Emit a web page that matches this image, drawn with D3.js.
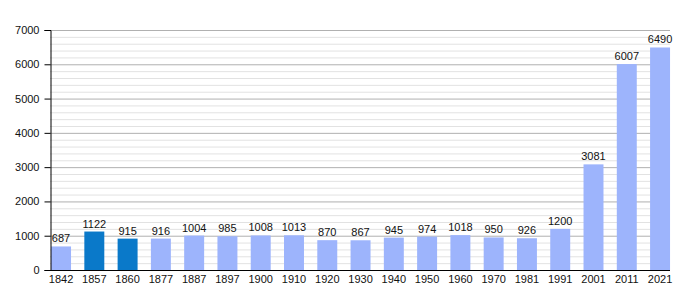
<!DOCTYPE html>
<html>
<head>
<meta charset="utf-8">
<script src="https://cdn.jsdelivr.net/npm/d3@7"></script>
<style>
  body { margin: 0; background: #fff; }
  svg { font-family: "Liberation Sans", Arial, sans-serif; }
</style>
</head>
<body>
<svg id="chart" width="700" height="300"></svg>
<script>
const years = ["1842", "1857", "1860", "1877", "1887", "1897", "1900", "1910", "1920", "1930",
               "1940", "1950", "1960", "1970", "1981", "1991", "2001", "2011", "2021"];
const population = [687, 1122, 915, 916, 1004, 985, 1008, 1013, 870, 867,
                    945, 974, 1018, 950, 926, 1200, 3081, 6007, 6490];
const highlighted = ["1857", "1860"];
const yTicks = [0, 1000, 2000, 3000, 4000, 5000, 6000, 7000];

const margin = {top: 30, left: 50, right: 30, bottom: 30};
const width = 700, height = 300;
const plotRight = width - margin.right;
const plotBottom = height - margin.bottom;

const svg = d3.select("#chart");

const x = d3.scaleBand()
    .domain(years)
    .range([44.4, 676.7])
    .paddingInner(0.4)
    .paddingOuter(0.2);

const y = d3.scaleLinear()
    .domain([0, 7000])
    .range([plotBottom, margin.top]);

// grid lines
const minor = d3.range(200, 7000, 200).filter(v => v % 1000 !== 0);
svg.append("g").selectAll("line")
    .data(minor)
    .join("line")
    .attr("x1", margin.left).attr("x2", plotRight)
    .attr("y1", d => y(d) + 0.5).attr("y2", d => y(d) + 0.5)
    .attr("stroke", "#e2e2e2");
svg.append("g").selectAll("line")
    .data(yTicks.filter(v => v > 0))
    .join("line")
    .attr("x1", margin.left).attr("x2", plotRight)
    .attr("y1", d => y(d) + 0.5).attr("y2", d => y(d) + 0.5)
    .attr("stroke", "#b0b0b0");

// bars
const data = years.map((yr, i) => ({year: yr, value: population[i]}));
svg.append("g").selectAll("rect")
    .data(data)
    .join("rect")
    .attr("x", d => x(d.year))
    .attr("width", x.bandwidth())
    .attr("y", d => y(d.value))
    .attr("height", d => y(0) - y(d.value))
    .attr("fill", d => highlighted.includes(d.year) ? "#0a79c9" : "#9db4fc");

svg.append("g").selectAll("text")
    .data(data)
    .join("text")
    .attr("x", d => x(d.year) + x.bandwidth() / 2)
    .attr("y", d => y(d.value) - 4)
    .attr("text-anchor", "middle")
    .attr("font-size", 11)
    .attr("fill", "#111")
    .text(d => d.value);

// y axis with minor ticks
const yAxis = svg.append("g").attr("transform", `translate(${margin.left + 0.5},0)`);
yAxis.call(d3.axisLeft(y).tickValues(minor).tickSize(3).tickFormat(""));
yAxis.call(d3.axisLeft(y).tickValues(yTicks).tickSize(6).tickPadding(5).tickFormat(d3.format("d")));
yAxis.selectAll("path").attr("stroke", "#000");
yAxis.selectAll("line").attr("stroke", "#000");
yAxis.selectAll("text").attr("font-size", 11).attr("fill", "#111")
    .attr("font-family", "Liberation Sans, Arial, sans-serif");

// x axis
const xAxis = svg.append("g").attr("transform", `translate(0,${plotBottom + 0.5})`);
xAxis.call(d3.axisBottom(x).tickSize(0).tickPadding(5));
xAxis.select("path").attr("d", `M${margin.left},0H${plotRight}`).attr("stroke", "#000");
xAxis.selectAll("text").attr("font-size", 11).attr("fill", "#111")
    .attr("font-family", "Liberation Sans, Arial, sans-serif");
</script>
</body>
</html>
